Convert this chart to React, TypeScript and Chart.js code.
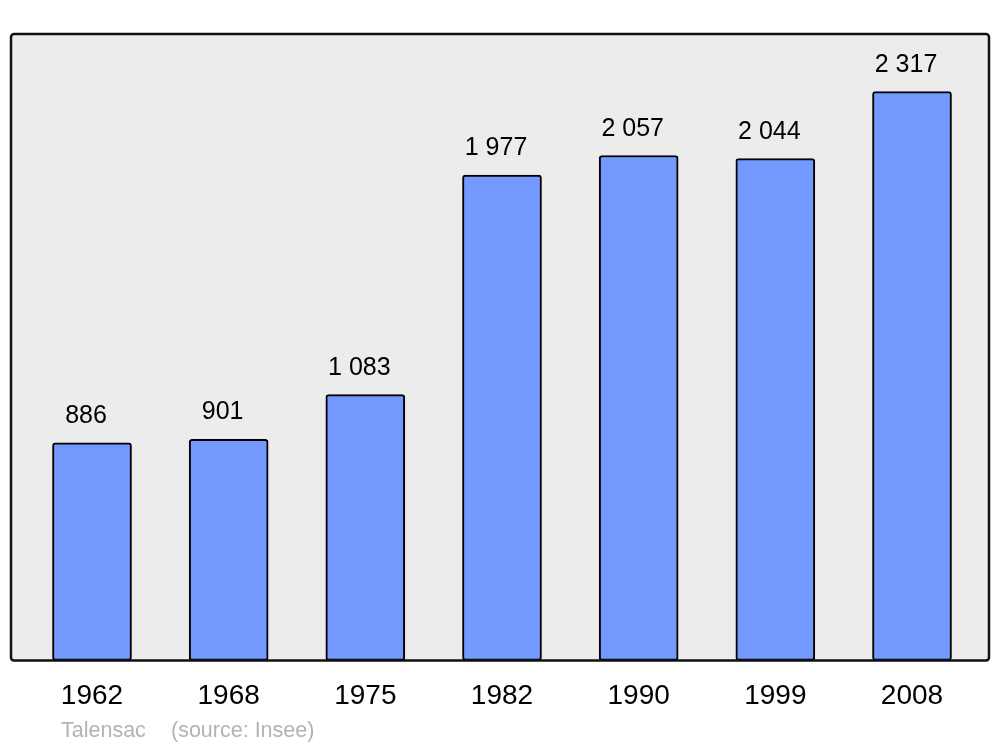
import React, { useEffect, useRef } from "react";
import { Chart, registerables } from "chart.js";

Chart.register(...registerables);

const years = ["1962", "1968", "1975", "1982", "1990", "1999", "2008"];
const population = [886, 901, 1083, 1977, 2057, 2044, 2317];
const caption = ["Talensac", "(source: Insee)"];

const FONT = "'Liberation Sans', Arial, sans-serif";

function fmt(n: number): string {
  return String(n).replace(/\B(?=(\d{3})+(?!\d))/g, " ");
}

const boxPlugin = {
  id: "box",
  beforeDatasetsDraw(chart: any) {
    const { ctx, chartArea: a } = chart;
    ctx.save();
    ctx.beginPath();
    ctx.roundRect(a.left, a.top, a.right - a.left, a.bottom - a.top, 3);
    ctx.fillStyle = "#ececec";
    ctx.fill();
    ctx.restore();
  },
  afterDatasetsDraw(chart: any) {
    const { ctx, chartArea: a } = chart;
    ctx.save();
    ctx.beginPath();
    ctx.roundRect(a.left, a.top, a.right - a.left, a.bottom - a.top, 3);
    ctx.lineWidth = 2.5;
    ctx.strokeStyle = "#111";
    ctx.stroke();
    // value labels
    const meta = chart.getDatasetMeta(0);
    ctx.fillStyle = "#000";
    ctx.font = `25px ${FONT}`;
    ctx.textAlign = "center";
    ctx.textBaseline = "alphabetic";
    meta.data.forEach((bar: any, i: number) => {
      ctx.fillText(fmt(population[i]), bar.x - 6, bar.y - 20);
    });
    // caption
    ctx.fillStyle = "#b3b3b3";
    ctx.font = `21.5px ${FONT}`;
    ctx.textAlign = "left";
    ctx.textBaseline = "alphabetic";
    ctx.fillText(caption[0], a.left + 50, 737);
    ctx.fillText(caption[1], a.left + 160, 737);
    ctx.restore();
  },
};

export default function App() {
  const ref = useRef<HTMLCanvasElement>(null);
  useEffect(() => {
    document.body.style.margin = "0";
    const chart = new Chart(ref.current!, {
      type: "bar",
      data: {
        datasets: [
          {
            data: population.map((v, i) => ({ x: i, y: v })),
            backgroundColor: "#7399ff",
            borderColor: "#000",
            borderWidth: 2,
            borderRadius: 3,
            borderSkipped: false,
            barThickness: 79,
          },
        ],
      },
      options: {
        animation: false,
        responsive: false,
        maintainAspectRatio: false,
        layout: { padding: { left: 11, right: 11, top: 34, bottom: 15 } },
        plugins: { legend: { display: false }, tooltip: { enabled: false } },
        scales: {
          x: {
            type: "linear",
            offset: false,
            min: -0.5927,
            max: 6.5634,
            grid: { display: false, drawTicks: false },
            border: { display: false },
            afterBuildTicks: (scale: any) => {
              scale.ticks = years.map((_, i) => ({ value: i }));
            },
            ticks: {
              padding: 19,
              color: "#000",
              font: { family: FONT, size: 28 },
              maxRotation: 0,
              autoSkip: false,
              callback: (v: any) => years[v] ?? "",
            },
          },
          y: {
            display: false,
            min: 0,
            max: 2552,
          },
        },
      },
      plugins: [boxPlugin],
    });
    return () => chart.destroy();
  }, []);
  return (
    <div style={{ position: "absolute", left: 0, top: 0, width: 1000, height: 747 }}>
      <canvas ref={ref} width={1000} height={747} style={{ width: 1000, height: 747 }} />
    </div>
  );
}
